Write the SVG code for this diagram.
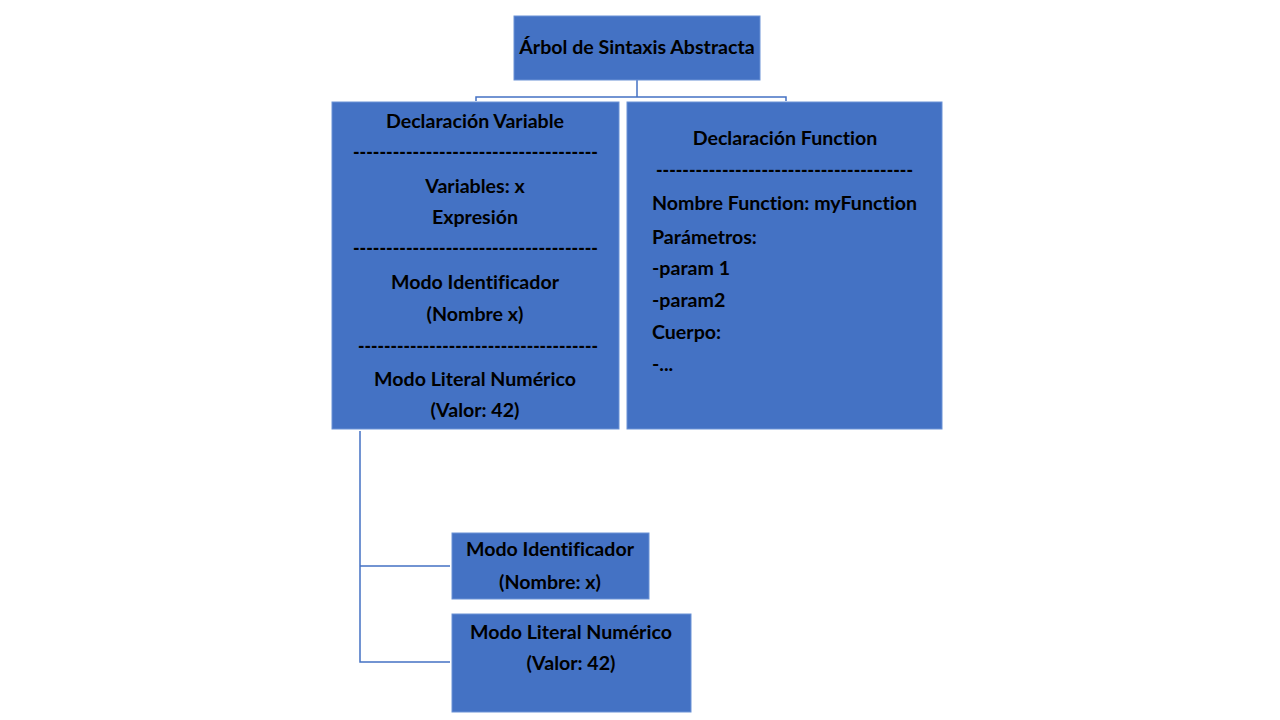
<svg xmlns="http://www.w3.org/2000/svg" width="1280" height="720" viewBox="0 0 1280 720">
<style>
.box{fill:#4472C4;stroke:#6A92D6;stroke-width:1}
.t{font-family:Lato,"Open Sans","Liberation Sans",sans-serif;font-weight:bold;font-size:19.6px;fill:#000;font-variant-ligatures:none}
.c{text-anchor:middle}
.d{font-weight:900}
.ln{fill:none;stroke:#4472C4;stroke-width:1.5}
</style>
<rect width="1280" height="720" fill="#ffffff"/>
<g id="connectors">
<path class="ln" d="M637,80 V97 M476,101 V97 H786 V101"/>
<path class="ln" d="M360,431 V662 H450 M360,566 H450"/>
</g>
<g id="root">
<rect class="box" x="514" y="16" width="246" height="64"/>
<text class="t c" x="637" y="54">Árbol de Sintaxis Abstracta</text>
</g>
<g id="decl-variable">
<rect class="box" x="332" y="102" width="287" height="327"/>
<text class="t c" x="475" y="128">Declaración Variable</text>
<text class="t d" x="353" y="159" textLength="245" lengthAdjust="spacingAndGlyphs">-------------------------------------</text>
<text class="t c" x="475" y="193">Variables: x</text>
<text class="t c" x="475" y="224">Expresión</text>
<text class="t d" x="353" y="255" textLength="245" lengthAdjust="spacingAndGlyphs">-------------------------------------</text>
<text class="t c" x="475" y="289">Modo Identificador</text>
<text class="t c" x="475" y="321">(Nombre x)</text>
<text class="t d" x="358" y="353" textLength="240" lengthAdjust="spacingAndGlyphs">-------------------------------------</text>
<text class="t c" x="475" y="386">Modo Literal Numérico</text>
<text class="t c" x="475" y="417">(Valor: 42)</text>
</g>
<g id="decl-function">
<rect class="box" x="627" y="102" width="315" height="327"/>
<text class="t c" x="785" y="145">Declaración Function</text>
<text class="t d" x="656" y="177" textLength="257" lengthAdjust="spacingAndGlyphs">---------------------------------------</text>
<text class="t" x="652" y="210">Nombre Function: myFunction</text>
<text class="t" x="652" y="244">Parámetros:</text>
<text class="t" x="652" y="275">-param 1</text>
<text class="t" x="652" y="307">-param2</text>
<text class="t" x="652" y="339">Cuerpo:</text>
<text class="t" x="652" y="371">-...</text>
</g>
<g id="modo-identificador">
<rect class="box" x="452" y="533" width="197" height="66"/>
<text class="t c" x="550" y="556">Modo Identificador</text>
<text class="t c" x="550" y="589">(Nombre: x)</text>
</g>
<g id="modo-literal">
<rect class="box" x="452" y="614" width="239" height="98"/>
<text class="t c" x="571" y="639">Modo Literal Numérico</text>
<text class="t c" x="571" y="670">(Valor: 42)</text>
</g>
</svg>
